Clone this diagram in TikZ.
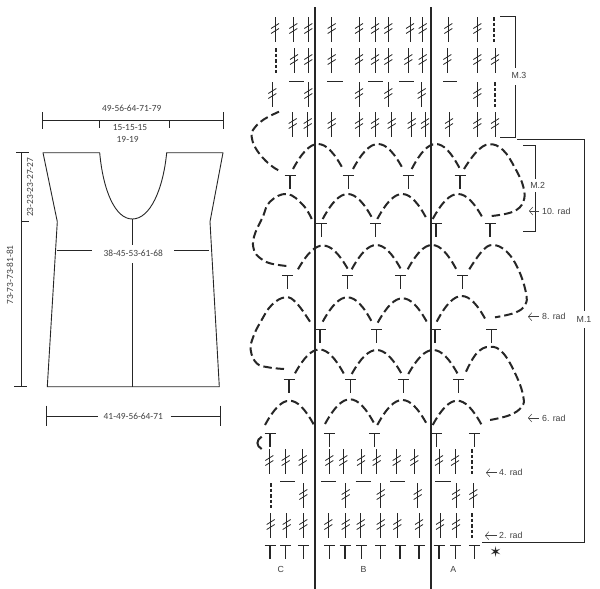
\documentclass[tikz,border=0pt]{standalone}
\usepackage{fontspec}
\usetikzlibrary{arrows.meta}
\setmainfont{Liberation Sans}
\newfontfamily\sizefont{Carlito}
\newfontfamily\rowfont{Liberation Sans}
\newfontfamily\symbfont{DejaVu Sans}
\definecolor{inkgray}{gray}{0.15}
\definecolor{textgray}{gray}{0.25}
\tikzset{
  outline/.style={line width=0.9pt,inkgray},
  sizelabel/.style={font=\sizefont\fontsize{9.4}{10}\selectfont,textgray,inner sep=0pt},
  roundlabel/.style={font=\rowfont\fontsize{8.8}{10}\selectfont,textgray,inner sep=0pt},
  chainst/.style={line width=2pt,inkgray,dash pattern=on 8.5pt off 4pt},
  dashst/.style={line width=2pt,inkgray,dash pattern=on 3.5pt off 2pt},
  stitch/.style={line width=1pt,inkgray},
  thinline/.style={line width=0.8pt,inkgray},
  rowarrow/.style={-{Straight Barb[length=3.5pt,width=8pt]},line width=0.5pt,textgray},
}
% double crochet: x, top y
\newcommand{\dcst}[2]{%
  \draw[stitch] (#1,#2) -- (#1,#2+25);
  \draw[line width=0.8pt,inkgray] (#1-4,#2+11.5) -- (#1+4,#2+6.5) (#1-4,#2+16.5) -- (#1+4,#2+11.5);
}
% double crochet as dashes: x, top y
\newcommand{\trst}[2]{\draw[dashst] (#1,#2) -- (#1,#2+25);}
% single crochet: x, top y
\newcommand{\tst}[2]{\draw[line width=1.3pt,inkgray] (#1-5.5,#2) -- (#1+5.5,#2) (#1,#2) -- (#1,#2+13);}
\begin{document}
\begin{tikzpicture}[x=1pt,y=-1pt]
\useasboundingbox (0,0) rectangle (600,589);

% Body outline
\draw[outline,line join=round] (43,152.7) -- (99.7,152.7)
  .. controls (103,190) and (115,219) .. (132.3,219)
  .. controls (150,219) and (163,190) .. (166.7,152.7)
  -- (223,152.7) -- (210,221.7) -- (219.3,386.7) -- (47.3,386.7) -- (57.3,221.7) -- cycle;
\draw[outline] (132.3,219) -- (132.3,245) (132.3,263) -- (132.3,386.7);
\draw[outline] (57.3,250.7) -- (92.3,250.7) (174,250.7) -- (209.3,250.7);

% Measures
\draw[thinline] (42.3,112) -- (42.3,129) (223,112) -- (223,129) (42.3,120.7) -- (223,120.7);
\draw[thinline] (99.7,120.7) -- (99.7,128) (169.3,120.7) -- (169.3,128);
\draw[thinline] (16,152.7) -- (29,152.7) (21,152.7) -- (21,386.7) (14,386.7) -- (27,386.7) (21,221.7) -- (29,221.7);
\draw[thinline] (46,405.7) -- (46,426) (220,405.7) -- (220,426) (46,416.7) -- (98.3,416.7) (170.7,416.7) -- (220,416.7);
\node[sizelabel] (width) at (131.7,108.3) {49-56-64-71-79};
\node[sizelabel] (necka) at (130,127.7) {15-15-15};
\node[sizelabel] (neckb) at (127.7,139) {19-19};
\node[sizelabel] (bust) at (133.3,253.3) {38-45-53-61-68};
\node[sizelabel] (hem) at (133.3,416.7) {41-49-56-64-71};
\node[sizelabel,rotate=90] (armhole) at (30,187.3) {23-23-23-27-27};
\node[sizelabel,rotate=90] (length) at (10,275) {73-73-73-81-81};

% Repeat lines
\draw[line width=1.2pt,inkgray] (315,7) -- (315,589) (431,7) -- (431,589);

% M.3 rows
\foreach \x in {275,293.3,308.3,331.7,359,375,388.3,410,422.7,448.3,477.3} {\dcst{\x}{17}}
\trst{494}{17}
\trst{275.7}{48}
\foreach \x in {294,308.3,331.7,359,375,388.3,408.3,422.7,447.3,477.3,495} {\dcst{\x}{48}}
\foreach \a/\b in {289/304,327.3/342.7,368.3/383.3,399/414,443.3/456.7} {
  \draw[stitch] (\a,81) -- (\b,81);
}
\foreach \x in {272.3,308.3,359,388.3,421.7,477.3} {\dcst{\x}{82}}
\trst{495}{82}
\foreach \x in {292.7,307.7,331.7,359,375,391.7,411.7,425,449,477.3,495} {\dcst{\x}{112}}

% Chain arches
\foreach \xa/\ya/\xb/\yb/\yp in {293/169/343/169/144,353/169/403/169/144,411.7/169/460/169/144,
  322.7/219/372.7/219/194,377.3/219/427.3/220/194,432.7/219/483.3/219/194,
  298/269.3/348/269.3/245.5,351.7/269.3/401/269.3/245,407.7/269.3/456.7/270/245,
  322.7/321.7/372.3/322.7/297.3,377.7/322.7/427.3/322.7/298.3,436.7/321.7/486.7/321.7/296,
  295/373.3/344/374/349.5,351.7/374/401.7/374/350,408.3/374/458.3/375/350,
  265/425/314/425/400.7,325/424/375/425/399.3,377.3/425/427.3/425/400,432.7/425/481.7/425/400.7} {
  \draw[chainst] (\xa,\ya) .. controls ({\xa+0.36*(\xb-\xa)},{\yp-(\ya-\yp)/3}) and ({\xb-0.36*(\xb-\xa)},{\yp-(\yb-\yp)/3}) .. (\xb,\yb);
}
% Chain loops at the edges
\draw[chainst] plot[smooth,tension=0.7] coordinates {(279,111.7) (263,120) (253,130) (251.7,137) (255,147) (263,158) (273,167) (281.5,171.7)};
\draw[chainst] plot[smooth,tension=0.7] coordinates {(464,169) (476.7,151.7) (489.3,144.3) (503,150) (515,168) (523.3,186.7) (523.3,201.7) (513,211.7) (491.7,216)};
\draw[chainst] plot[smooth,tension=0.7] coordinates {(311.7,219) (303,205) (287,194) (270,201.7) (262.7,217) (254,236.7) (254,250) (260,258) (270,263.3) (286.7,266)};
\draw[chainst] plot[smooth,tension=0.7] coordinates {(469.3,269.3) (481.7,251.7) (492.7,245) (506.7,251.7) (518.3,269.3) (526,293) (525,305) (515,312.7) (495,317.3)};
\draw[chainst] plot[smooth,tension=0.7] coordinates {(310,321.7) (296.7,303.3) (285.7,297.3) (271.7,305) (260.7,321.7) (253.3,336.7) (250.7,350) (256.7,363.3) (268.3,367.3) (284,369)};
\draw[chainst] plot[smooth,tension=0.7] coordinates {(466,371.7) (476.7,353.3) (490,346.7) (503.3,353.3) (516.7,376.7) (523.3,396.7) (521.7,406.7) (510,415) (490,420)};
\draw[line width=2pt,inkgray] (261.7,436.7) .. controls (256,440) and (256,446) .. (261.7,449);

% Single crochet rows
\foreach \x in {290,348.3,408.3,460} {\tst{\x}{175.5}}
\foreach \x in {321.7,375.7,436,490} {\tst{\x}{223.5}}
\foreach \x in {287.7,347.3,400.7,462.7} {\tst{\x}{275.5}}
\foreach \x in {320,376.7,435,491.7} {\tst{\x}{329.5}}
\foreach \x in {289,350.7,403.3,458.3} {\tst{\x}{379.5}}
\foreach \x in {270,329.3,374.3,436.7,474.3} {\tst{\x}{433.5}}
\foreach \x in {270,285.7,303.3,329.3,345,361.7,380.7,400,419,439,455.7,474.3} {\tst{\x}{545.5}}

% Rows 2 to 4
\foreach \x in {269.3,285.7,302.7,329.3,343.3,361,376.7,396.7,414.3,439,455} {\dcst{\x}{449}}
\trst{472.3}{449}
\trst{270.7}{483}
\foreach \x in {303.3,345.7,380.7,417.7,456,473.3} {\dcst{\x}{483}}
\foreach \a/\b in {280/295,321/336,355.7/370.7,390/405,435/450.7} {
  \draw[stitch] (\a,481.7) -- (\b,481.7);
}
\foreach \x in {270.7,286.7,303.3,328.3,345.7,360.7,380.7,397.3,419,440,456} {\dcst{\x}{513}}
\trst{472.3}{513}

% Brackets
\draw[thinline] (500,16.7) -- (515,16.7) -- (515,68) (515,85) -- (515,137.5) -- (500,137.5);
\draw[thinline] (517,139) -- (584,139) -- (584,311) (584,328) -- (584,542.5) -- (481.7,542.5);
\draw[thinline] (523,145.7) -- (535,145.7) -- (535,179) (535,192) -- (535,231) -- (523,231);
\node[roundlabel] (mthree) at (519,75) {M.3};
\node[roundlabel] (mtwo) at (537.7,185) {M.2};
\node[roundlabel] (mone) at (584,319.5) {M.1};

% Row marks
\draw[rowarrow] (539,211) -- (529,211);
\node[roundlabel,anchor=west] (rowten) at (542,211) {10. rad};
\draw[rowarrow] (539,316.7) -- (528,316.7);
\node[roundlabel,anchor=west] (roweight) at (542,316.7) {8. rad};
\draw[rowarrow] (539,418) -- (528,418);
\node[roundlabel,anchor=west] (rowsix) at (542,418) {6. rad};
\draw[rowarrow] (497,472.7) -- (486,472.7);
\node[roundlabel,anchor=west] (rowfour) at (499,472.7) {4. rad};
\draw[rowarrow] (497,535.7) -- (485,535.7);
\node[roundlabel,anchor=west] (rowtwo) at (499,535.7) {2. rad};

% Repeat names
\node[roundlabel] (repc) at (280.7,569.3) {C};
\node[roundlabel] (repb) at (363.5,569.3) {B};
\node[roundlabel] (repa) at (453.3,569.3) {A};
\node[inner sep=0pt,font=\symbfont\fontsize{15}{15}\selectfont,inkgray] (start) at (495.7,552.3) {✶};
\end{tikzpicture}
\end{document}
